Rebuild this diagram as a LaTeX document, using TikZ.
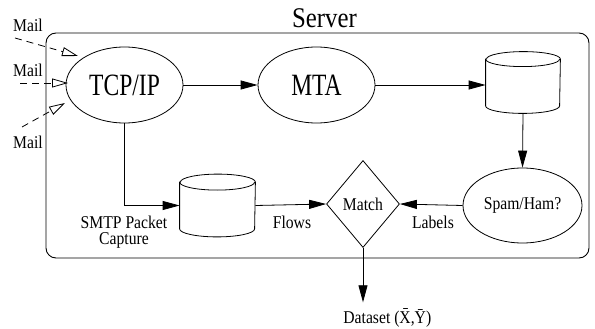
\documentclass[tikz,border=0pt]{standalone}
\usepackage{fontspec}
\setmainfont{Liberation Serif}
\newfontfamily\condS{Liberation Serif}[FakeStretch=0.87]
\newfontfamily\condB{Liberation Serif}[FakeStretch=0.76]
\usetikzlibrary{arrows.meta,shapes.geometric,calc}
\newcommand\drawcyl[3]{%
  \draw[cyl] ([yshift=-#3]#1.north west) -- ([yshift=#3]#1.south west)
    arc[start angle=180, end angle=360, x radius=#2, y radius=#3]
    -- ([yshift=-#3]#1.north east)
    arc[start angle=0, end angle=180, x radius=#2, y radius=#3] -- cycle;
  \draw[cyl] ([yshift=-#3]#1.north west)
    arc[start angle=180, end angle=360, x radius=#2, y radius=#3];
}
\begin{document}
\begin{tikzpicture}[x=1pt,y=-1pt,line width=0.8pt,
  arr/.style={-{Triangle[length=17pt,width=9pt]}},
  mailarr/.style={dash pattern=on 7pt off 5pt,-{Triangle[open,length=16pt,width=9pt]}},
  ell/.style={draw,ellipse,inner sep=0pt},
  lbl/.style={font=\condS\fontsize{18}{16}\selectfont,inner sep=0pt},
  big/.style={font=\condB\fontsize{31}{34}\selectfont},
  dbbox/.style={rectangle,inner sep=0pt},
  cyl/.style={draw,line width=0.8pt},
  serverbox/.style={draw,rounded corners=10pt,line width=0.9pt}]
\useasboundingbox (0,0) rectangle (595,329);
% server container
\draw[serverbox] (46,33) rectangle (589,258);
\node[font=\condS\fontsize{28.5}{30}\selectfont,anchor=base,inner sep=0pt] (srv) at (324.5,28) {Server};
% nodes
\node[ell,big,minimum width=117pt,minimum height=76pt] (tcp) at (124.5,85) {TCP/IP};
\node[ell,big,minimum width=117pt,minimum height=76pt] (mta) at (316.5,85) {MTA};
\node[dbbox,minimum width=74pt,minimum height=61pt] (db1) at (523,82.5) {};
\drawcyl{db1}{37pt}{7.5pt}
\node[ell,lbl,minimum width=119pt,minimum height=75pt] (spam) at (522.5,205.5) {Spam/Ham?};
\node[draw,diamond,lbl,minimum width=73pt,minimum height=87pt] (match) at (363,204) {Match};
\node[dbbox,minimum width=75pt,minimum height=62pt] (db2) at (217.5,205.5) {};
\drawcyl{db2}{37.5pt}{8pt}
% labels
\node[lbl,anchor=base] (mail1) at (28,32) {Mail};
\node[lbl,anchor=base] (mail2) at (28,77) {Mail};
\node[lbl,anchor=base] (mail3) at (28,148) {Mail};
\node[lbl,align=center,anchor=center] (smtp) at (124,232) {SMTP Packet\\Capture};
\node[lbl,anchor=base] (flows) at (292,228) {Flows};
\node[lbl,anchor=base] (labels) at (433,228) {Labels};
\node[lbl,anchor=base west,inner xsep=0pt,inner ysep=6pt] (ds) at (343,323) {Dataset (\={X},\={Y})};
% mail arrows
\coordinate (m1s) at (15,38); \coordinate (m1e) at (78,56);
\coordinate (m2s) at (20,83); \coordinate (m2e) at (68,83);
\coordinate (m3s) at (22,127); \coordinate (m3e) at (65,103);
\draw[mailarr] (m1s) -- (m1e);
\draw[mailarr] (m2s) -- (m2e);
\draw[mailarr] (m3s) -- (m3e);
% connectors
\draw[arr] (tcp) -- (mta);
\draw[arr] (mta.east) -- (mta.east -| db1.west);
\draw[arr] (db1.south) -- (spam.north);
\draw[arr] (spam.west) -- (match.east);
\draw[arr] (tcp.south) |- (db2.west);
\draw[arr] (db2.east) -- (match.west);
\draw[arr] (match.south) -- (match.south |- ds.north);
\end{tikzpicture}
\end{document}
